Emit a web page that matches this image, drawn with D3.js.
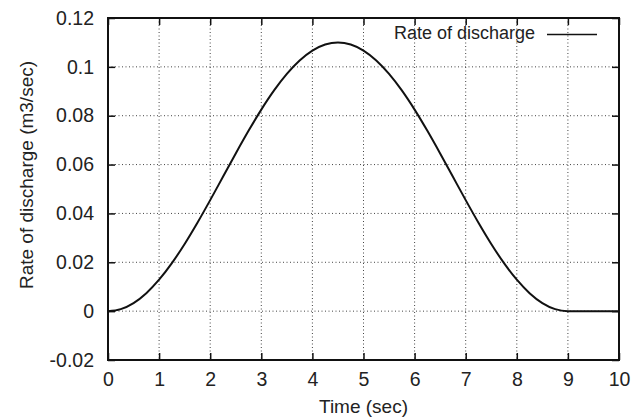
<!DOCTYPE html>
<html>
<head>
<meta charset="utf-8">
<script src="https://cdn.jsdelivr.net/npm/d3@7"></script>
<style>
  html, body { margin: 0; padding: 0; background: #fff; }
  svg text { font-family: "Liberation Sans", Arial, Helvetica, sans-serif; fill: #222; }
</style>
</head>
<body>
<svg id="chart" width="632" height="417"></svg>
<script>
// Discharge rate over time (m3/sec)
const timeSec = [0, 0.25, 0.5, 0.75, 1, 1.25, 1.5, 1.75, 2, 2.25, 2.5, 2.75, 3, 3.25, 3.5, 3.75, 4, 4.25, 4.5,
                 4.75, 5, 5.25, 5.5, 5.75, 6, 6.25, 6.5, 6.75, 7, 7.25, 7.5, 7.75, 8, 8.25, 8.5, 8.75, 9,
                 9.25, 9.5, 9.75, 10];
const discharge = [0, 0.00084, 0.00332, 0.00737, 0.01287, 0.01965, 0.0275, 0.03619, 0.04545, 0.055,
                   0.06455, 0.07381, 0.0825, 0.09035, 0.09713, 0.10263, 0.10668, 0.10916, 0.11,
                   0.10916, 0.10668, 0.10263, 0.09713, 0.09035, 0.0825, 0.07381, 0.06455, 0.055,
                   0.04545, 0.03619, 0.0275, 0.01965, 0.01287, 0.00737, 0.00332, 0.00084, 0,
                   0, 0, 0, 0];
const xTicks = [0, 1, 2, 3, 4, 5, 6, 7, 8, 9, 10];
const yTicks = [-0.02, 0, 0.02, 0.04, 0.06, 0.08, 0.1, 0.12];
const yTickLabels = ["-0.02", "0", "0.02", "0.04", "0.06", "0.08", "0.1", "0.12"];
const seriesName = "Rate of discharge";
const xTitle = "Time (sec)";
const yTitle = "Rate of discharge (m3/sec)";

const svg = d3.select("#chart");
const margin = { left: 108, top: 18, right: 13, bottom: 57 };
const W = 632 - margin.left - margin.right;
const H = 417 - margin.top - margin.bottom;
const g = svg.append("g").attr("transform", `translate(${margin.left},${margin.top})`);

const x = d3.scaleLinear().domain([0, 10]).range([0, W]);
const y = d3.scaleLinear().domain([-0.02, 0.12]).range([H, 0]);

// dotted grid (interior ticks only)
g.append("g").selectAll("line.vg").data(xTicks.slice(1, -1)).join("line")
  .attr("x1", d => x(d)).attr("x2", d => x(d)).attr("y1", 0).attr("y2", H)
  .attr("stroke", "#444").attr("stroke-width", 1).attr("stroke-dasharray", "1,2.5");
g.append("g").selectAll("line.hg").data(yTicks.slice(1, -1)).join("line")
  .attr("y1", d => y(d)).attr("y2", d => y(d)).attr("x1", 0).attr("x2", W)
  .attr("stroke", "#444").attr("stroke-width", 1).attr("stroke-dasharray", "1,2.5");

// axes with inward ticks on all four sides
const tickLen = 7;
const fmtY = d => yTickLabels[yTicks.indexOf(d)];
const axB = g.append("g").attr("transform", `translate(0,${H})`)
  .call(d3.axisBottom(x).tickValues(xTicks).tickSizeInner(-tickLen).tickSizeOuter(0).tickPadding(12).tickFormat(d3.format("d")));
const axT = g.append("g")
  .call(d3.axisTop(x).tickValues(xTicks).tickSizeInner(-tickLen).tickSizeOuter(0).tickFormat(""));
const axL = g.append("g")
  .call(d3.axisLeft(y).tickValues(yTicks).tickSizeInner(-tickLen).tickSizeOuter(0).tickPadding(14).tickFormat(fmtY));
const axR = g.append("g").attr("transform", `translate(${W},0)`)
  .call(d3.axisRight(y).tickValues(yTicks).tickSizeInner(-tickLen).tickSizeOuter(0).tickFormat(""));
[axB, axT, axL, axR].forEach(a => {
  a.select(".domain").remove();
  a.selectAll(".tick line").attr("stroke", "#111").attr("stroke-width", 1.5);
  a.selectAll("text").attr("font-size", 19.5).attr("fill", "#222")
   .style("font-family", "'Liberation Sans', Arial, sans-serif");
});

// frame
g.append("rect").attr("x", 0).attr("y", 0).attr("width", W).attr("height", H)
  .attr("fill", "none").attr("stroke", "#111").attr("stroke-width", 2);

// curve
const pts = timeSec.map((t, i) => [t, discharge[i]]);
const line = d3.line().x(d => x(d[0])).y(d => y(d[1])).curve(d3.curveMonotoneX);
g.append("path").datum(pts).attr("d", line)
  .attr("fill", "none").attr("stroke", "#111").attr("stroke-width", 2);

// legend
g.append("text").attr("x", 427).attr("y", 16.5).attr("font-size", 18)
  .attr("text-anchor", "end").attr("dominant-baseline", "middle").text(seriesName);
g.append("line").attr("x1", 439).attr("x2", 489).attr("y1", 16.5).attr("y2", 16.5)
  .attr("stroke", "#111").attr("stroke-width", 1.5);

// axis titles
svg.append("text").attr("x", margin.left + W / 2).attr("y", 413).attr("text-anchor", "middle")
  .attr("font-size", 19).text(xTitle);
svg.append("text").attr("transform", "translate(33,175) rotate(-90)")
  .attr("text-anchor", "middle").attr("font-size", 19).text(yTitle);
</script>
</body>
</html>
